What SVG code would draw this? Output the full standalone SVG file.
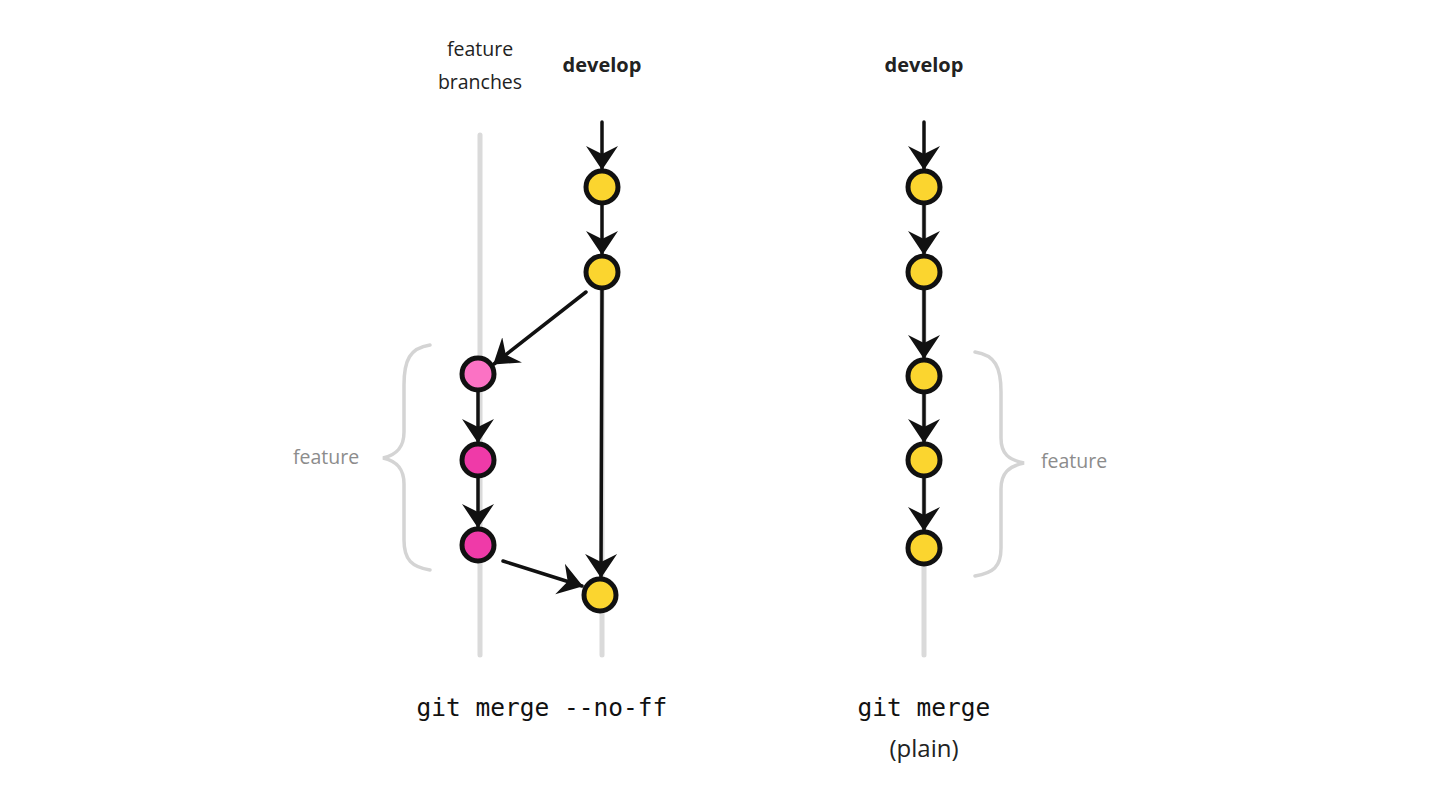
<svg xmlns="http://www.w3.org/2000/svg" width="1440" height="810" viewBox="0 0 1440 810">
<style>
.lane{stroke:#dadada;stroke-width:5;stroke-linecap:round;fill:none}
.brace{stroke:#d4d4d4;stroke-width:3.5;fill:none;stroke-linecap:round}
.edge{stroke:#111;stroke-width:3.5;fill:none;stroke-linecap:round}
.node{stroke:#111;stroke-width:5}
.y{fill:#fbd52f}
.p1{fill:#fb72c4}
.p2{fill:#ef3aa8}
.hd{font-family:"Open Sans","Liberation Sans",sans-serif;font-size:19.5px;fill:#222;text-anchor:middle}
.bold{font-weight:bold;font-size:20px}
.grey{fill:#8c8c8c}
.mono{font-family:"DejaVu Sans Mono","Liberation Mono",monospace;font-size:24.5px;fill:#111;text-anchor:middle}
</style>
<defs>
<marker id="ah" viewBox="0 0 24 34" markerWidth="24" markerHeight="34" refX="23" refY="17" orient="auto" markerUnits="userSpaceOnUse">
<path d="M0,1 L24,17 L0,33 L8,17 Z" fill="#111"/>
</marker>
</defs>
<rect width="1440" height="810" fill="#fff"/>
<g id="lanes">
<line class="lane" x1="480" y1="135" x2="480" y2="655"/>
<line class="lane" x1="602" y1="290" x2="602" y2="655"/>
<line class="lane" x1="924" y1="180" x2="924" y2="655"/>
</g>
<g id="braces">
<path class="brace" d="M430,345 C410,348 404,360 404,385 L404,432 C404,448 396,455 383,458 C396,461 404,468 404,484 L404,540 C404,560 412,567 430,570"/>
<path class="brace" d="M975,352 C995,355 1001,367 1001,392 L1001,438 C1001,454 1009,460 1024,463 C1009,466 1001,473 1001,489 L1001,548 C1001,567 993,573 975,576"/>
</g>
<g id="connectors">
<line class="edge" x1="602" y1="122" x2="602" y2="169" marker-end="url(#ah)"/>
<line class="edge" x1="602" y1="205" x2="602" y2="254" marker-end="url(#ah)"/>
<line class="edge" x1="586" y1="292" x2="494" y2="364" marker-end="url(#ah)"/>
<line class="edge" x1="602" y1="290" x2="601" y2="577" marker-end="url(#ah)"/>
<line class="edge" x1="478" y1="392" x2="478" y2="442" marker-end="url(#ah)"/>
<line class="edge" x1="478" y1="478" x2="478" y2="527" marker-end="url(#ah)"/>
<line class="edge" x1="503" y1="561" x2="582" y2="586" marker-end="url(#ah)"/>
<line class="edge" x1="924" y1="122" x2="924" y2="169" marker-end="url(#ah)"/>
<line class="edge" x1="924" y1="205" x2="924" y2="254" marker-end="url(#ah)"/>
<line class="edge" x1="924" y1="290" x2="924" y2="358" marker-end="url(#ah)"/>
<line class="edge" x1="924" y1="394" x2="924" y2="442" marker-end="url(#ah)"/>
<line class="edge" x1="924" y1="478" x2="924" y2="530" marker-end="url(#ah)"/>
</g>
<g id="d1"><circle class="node y" cx="602" cy="187" r="16"/></g>
<g id="d2"><circle class="node y" cx="602" cy="272" r="16"/></g>
<g id="d3"><circle class="node y" cx="600" cy="595" r="16"/></g>
<g id="f1"><circle class="node p1" cx="478" cy="374" r="16"/></g>
<g id="f2"><circle class="node p2" cx="478" cy="460" r="16"/></g>
<g id="f3"><circle class="node p2" cx="478" cy="545" r="16"/></g>
<g id="r1"><circle class="node y" cx="924" cy="187" r="16"/></g>
<g id="r2"><circle class="node y" cx="924" cy="272" r="16"/></g>
<g id="r3"><circle class="node y" cx="924" cy="376" r="16"/></g>
<g id="r4"><circle class="node y" cx="924" cy="460" r="16"/></g>
<g id="r5"><circle class="node y" cx="924" cy="548" r="16"/></g>
<g id="labels">
<text class="hd" x="480" y="56">feature</text>
<text class="hd" x="480" y="89">branches</text>
<text class="hd bold" x="602" y="72">develop</text>
<text class="hd bold" x="924" y="72">develop</text>
<text class="hd grey" x="326" y="464">feature</text>
<text class="hd grey" x="1074" y="468">feature</text>
<text class="mono" x="542" y="716">git merge --no-ff</text>
<text class="mono" x="924" y="716">git merge</text>
<text class="hd" x="924" y="757" style="font-size:24px">(plain)</text>
</g>
</svg>
